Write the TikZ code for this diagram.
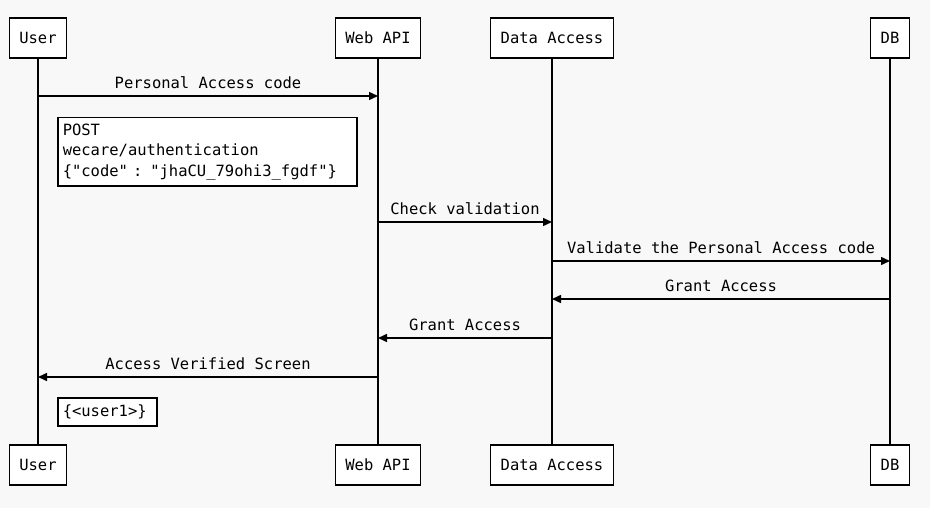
\documentclass[tikz,border=0pt]{standalone}
\usepackage{fontspec}
\setmonofont{DejaVu Sans Mono}
\usetikzlibrary{arrows.meta}
\definecolor{bgcol}{HTML}{F8F8F8}

\begin{document}
\begin{tikzpicture}[x=1pt,y=-1pt,line width=1.5pt,
    font=\ttfamily\fontsize{15.5}{20.5}\selectfont,
    actor/.style={draw,fill=white,minimum height=40pt,inner xsep=10pt},
    msg/.style={-{Triangle[length=9pt,width=8pt]}},
    note/.style={draw,fill=white,align=left,inner xsep=5pt,inner ysep=6pt,anchor=north west}]
  \fill[bgcol] (0,0) rectangle (930,508);

  % actors on top and bottom, joined by their lifelines
  \foreach \n/\x/\t in {user/38/User, api/378/Web API, data/552/Data Access, db/890/DB} {
    \node[actor] (\n) at (\x,38) {\t};
    \node[actor] (\n2) at (\x,465) {\t};
    \draw (\n) -- (\n2);
  }

  \draw[msg] (user |- 0,96) -- node[above=3pt] {Personal Access code} (api |- 0,96);
  \node[note,text width=289pt] (req) at (57,117) {POST\\wecare/authentication\\\{"code" : "jhaCU\_79ohi3\_fgdf"\}};

  \draw[msg] (api |- 0,222) -- node[above=3pt] {Check validation} (data |- 0,222);
  \draw[msg] (data |- 0,261) -- node[above=3pt] {Validate the Personal Access code} (db |- 0,261);
  \draw[msg] (db |- 0,299) -- node[above=3pt] {Grant Access} (data |- 0,299);
  \draw[msg] (data |- 0,338) -- node[above=3pt] {Grant Access} (api |- 0,338);
  \draw[msg] (api |- 0,377) -- node[above=3pt] {Access Verified Screen} (user |- 0,377);

  \node[note,text width=89pt,minimum height=28pt,inner ysep=3pt] (resp) at (57,397) {\{<user1>\}};
\end{tikzpicture}
\end{document}
